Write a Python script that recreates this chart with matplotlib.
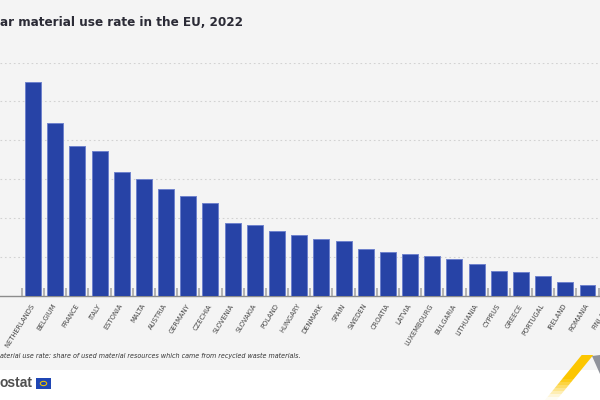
import matplotlib
matplotlib.use("Agg")
import matplotlib.pyplot as plt
from matplotlib.patches import Rectangle, Polygon, Circle
import numpy as np

countries = ["NETHERLANDS", "BELGIUM", "FRANCE", "ITALY", "ESTONIA", "MALTA", "AUSTRIA",
             "GERMANY", "CZECHIA", "SLOVENIA", "SLOVAKIA", "POLAND", "HUNGARY", "DENMARK",
             "SPAIN", "SWEDEN", "CROATIA", "LATVIA", "LUXEMBOURG", "BULGARIA", "LITHUANIA",
             "CYPRUS", "GREECE", "PORTUGAL", "IRELAND", "ROMANIA", "FINLAND"]
values = [27.5, 22.2, 19.3, 18.7, 16.0, 15.0, 13.8, 12.9, 11.9, 9.4, 9.1, 8.3, 7.9, 7.3,
          7.1, 6.1, 5.7, 5.4, 5.2, 4.8, 4.1, 3.2, 3.1, 2.6, 1.8, 1.4, 0.6]
yticks = [0, 5, 10, 15, 20, 25, 30]

title_visible = "ar material use rate in the EU, 2022"
note_visible = "aterial use rate: share of used material resources which came from recycled waste materials."
logo_visible = "ostat"

W, H = 600, 400
fig = plt.figure(figsize=(6, 4), dpi=100)
fig.patch.set_facecolor("white")

# grey panel
fig.patches.append(Rectangle((0, 1 - 370 / H), 1, 370 / H, transform=fig.transFigure,
                             facecolor="#f4f4f4", edgecolor="none", zorder=-5))

pitch = 22.18
x0_px = 33.0
xmin = -x0_px / pitch
xmax = 27.5
ax_w = (xmax - xmin) * pitch / W
ax = fig.add_axes([0, (H - 296) / H, ax_w, (296 - 62.6) / H])
ax.set_facecolor("none")
ax.set_zorder(1)
x = np.arange(len(countries))
ax.bar(x, values, width=0.72, color="#2743a6", edgecolor="#6f82cc", linewidth=0.7, zorder=3)
ax.set_xlim(xmin, xmax)
ax.set_ylim(0, 30)
ax.set_yticks(yticks)
ax.tick_params(axis="y", left=False, labelleft=False)
for yv in yticks[1:]:
    ax.axhline(yv, color="#d2d2d2", linestyle=(0, (1.5, 2.5)), linewidth=0.8, zorder=1)
for s in ["top", "right", "left"]:
    ax.spines[s].set_visible(False)
ax.spines["bottom"].set_color("#8c8c8c")
ax.spines["bottom"].set_linewidth(1.0)
ax.set_xticks(np.arange(len(countries)) - 0.5, minor=False)
ax.set_xticklabels([])
ax.tick_params(axis="x", which="major", direction="in", length=6, color="#a8a8a8", width=1.2)
ax.set_xticks(x, minor=True)
ax.set_xticklabels(countries, minor=True, rotation=58, ha="right", va="center",
                   rotation_mode="anchor", fontsize=5.4, color="#444444",
                   family="DejaVu Sans", fontstretch="condensed")
ax.tick_params(axis="x", which="minor", length=0, pad=6)

fig.text(0, 1 - 23 / H, title_visible, ha="left", va="center", fontsize=9.6,
         fontweight="bold", color="#2b2b36", family="DejaVu Sans", fontstretch="condensed")
fig.text(0, 1 - 356 / H, note_visible, ha="left", va="center", fontsize=5.1, style="italic",
         color="#333333", family="DejaVu Sans", fontstretch="condensed")

# eurostat logo
fig.text(0, 1 - 383 / H, logo_visible, ha="left", va="center", fontsize=10,
         fontweight="bold", color="#505050", family=["Liberation Sans", "DejaVu Sans"])
fig.patches.append(Rectangle((36 / W, 1 - 389 / H), 15 / W, 11 / H, transform=fig.transFigure,
                             facecolor="#1f46b4", edgecolor="none", zorder=2))
fig.patches.append(Circle((43.5 / W, 1 - 383.5 / H), 3.2 / W, transform=fig.transFigure,
                          facecolor="none", edgecolor="#e8c000", linewidth=0.8, zorder=3))

# chevron decoration
def fp(px, py):
    return (px / W, 1 - py / H)

steps = 15
for i in range(steps):
    t0 = i / steps
    t1 = (i + 1) / steps
    ya, yb = 355 + 45 * t0, 355 + 45 * t1
    xa_l, xb_l = 581.7 - 36.7 * t0, 581.7 - 36.7 * t1
    poly = [fp(xa_l, ya), fp(xa_l + 11.6, ya), fp(xb_l + 11.6, yb), fp(xb_l, yb)]
    alpha = 1.0 if t1 < 0.55 else max(0.05, 1 - (t1 - 0.55) / 0.45)
    fig.patches.append(Polygon(poly, closed=True, transform=fig.transFigure,
                               facecolor="#fcc600", edgecolor="none", alpha=alpha, zorder=2))
fig.patches.append(Polygon([fp(592, 356), fp(600, 355), fp(600, 374)], closed=True,
                           transform=fig.transFigure, facecolor="#8f929a",
                           edgecolor="none", zorder=2))

fig.savefig("out.png", dpi=100)
